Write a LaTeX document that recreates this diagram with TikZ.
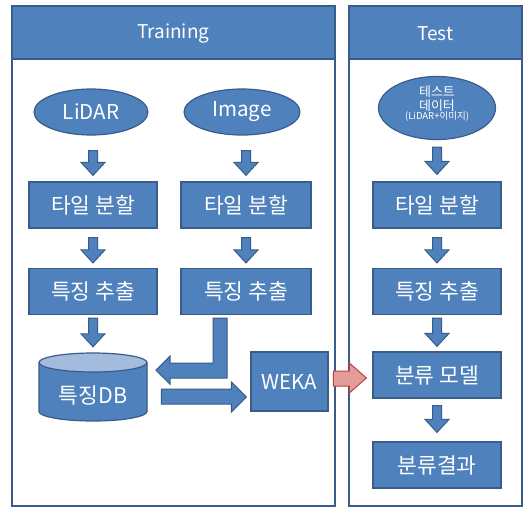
\documentclass[tikz,border=0pt]{standalone}
\usepackage{fontspec}
\setmainfont{Noto Sans CJK KR}
\usetikzlibrary{calc,shapes.geometric}
\definecolor{boxblue}{HTML}{4F81BD}
\definecolor{edgeblue}{HTML}{385D8A}
\definecolor{topblue}{HTML}{A3BCDD}
\definecolor{redfill}{HTML}{E39C9A}
\definecolor{rededge}{HTML}{B8433F}
\tikzset{
  panel/.style={draw=edgeblue, line width=1.5pt, fill=white, inner sep=0pt, anchor=north west},
  header/.style={draw=edgeblue, line width=1.5pt, fill=boxblue, text=white, inner sep=0pt, anchor=north west, font=\fontsize{19}{21}\selectfont},
  box/.style={draw=edgeblue, line width=1.2pt, fill=boxblue, text=white, minimum height=46pt, minimum width=128pt, inner sep=0pt, font=\fontsize{21.5}{23}\selectfont},
  ell/.style={ellipse, draw=edgeblue, line width=1.2pt, fill=boxblue, text=white, inner sep=0pt, minimum height=46pt, font=\fontsize{20.5}{22}\selectfont},
  small/.style={text=white, inner sep=0pt},
  barrow/.style={draw=edgeblue, line width=1pt, fill=boxblue, line join=miter},
  rarrow/.style={draw=rededge, line width=1pt, fill=redfill, line join=miter},
  dbtext/.style={text=white, inner sep=0pt, font=\fontsize{21.5}{23}\selectfont}
}
\newcommand{\blockdown}[4]{%
  \path[barrow] let \p1=(#1), \p2=(#3), \n1={\y1-#2pt}, \n2={\y2+#4pt} in
    (\x2-4.5pt,\n1) -- (\x2+4.5pt,\n1) -- (\x2+4.5pt,\n2+13pt) -- (\x2+12pt,\n2+13pt)
    -- (\x2,\n2) -- (\x2-12pt,\n2+13pt) -- (\x2-4.5pt,\n2+13pt) -- cycle;}
\begin{document}
\begin{tikzpicture}[x=1pt,y=-1pt]
\useasboundingbox (0,0) rectangle (524,507);
\fill[white] (0,0) rectangle (524,507);
% panels
\node[panel, minimum width=323pt, minimum height=500pt] (trainpanel) at (11,5) {};
\node[header, minimum width=323pt, minimum height=53pt] (trainhead) at (11,5) {};
\node[small, font=\fontsize{19}{21}\selectfont] (trainlabel) at ($(trainhead.center)+(0,1.5)$) {Training};
\node[panel, minimum width=173pt, minimum height=500pt] (testpanel) at (348,5) {};
\node[header, minimum width=173pt, minimum height=53pt] (testhead) at (348,5) {};
\node[small, font=\fontsize{19}{21}\selectfont] (testlabel) at ($(testhead.center)+(0,1.5)$) {Test};
% sources
\node[ell, minimum width=114pt] (lidar) at (91,112) {LiDAR};
\node[ell, minimum width=116pt] (image) at (242,112) {Image};
\node[ell, minimum width=117pt, minimum height=63pt] (testdata) at (437,108) {};
\node[small, font=\fontsize{13}{14}\selectfont] (td1) at (437,92) {테스트};
\node[small, font=\fontsize{13}{14}\selectfont] (td2) at (437,105.5) {데이터};
\node[small, font=\fontsize{9.5}{10}\selectfont] (td3) at (437,116.5) {(LiDAR+이미지)};
% boxes
\node[box] (t1) at (93,205) {타일 분할};
\node[box, minimum width=130pt] (t2) at (246,205) {타일 분할};
\node[box] (t3) at (437,205) {타일 분할};
\node[box] (f1) at (93,291.5) {특징 추출};
\node[box, minimum width=130pt] (f2) at (246,291.5) {특징 추출};
\node[box] (f3) at (437,291.5) {특징 추출};
\node[box] (model) at (437,375) {분류 모델};
\node[box] (result) at (437,465) {분류결과};
\node[box, minimum width=77pt, minimum height=59pt, font=\fontsize{20.5}{22}\selectfont] (weka) at (289.5,381.5) {WEKA};
% database cylinder
\node[minimum width=108pt, minimum height=68pt, inner sep=0pt] (db) at (93,387) {};
\fill[boxblue] (39,362.5) -- (39,411.5) arc[start angle=180, end angle=360, x radius=54pt, y radius=9.5pt] -- (147,362.5) -- cycle;
\draw[edgeblue, line width=1.2pt] (39,362.5) -- (39,411.5) arc[start angle=180, end angle=360, x radius=54pt, y radius=9.5pt] -- (147,362.5);
\draw[edgeblue, line width=1.2pt, fill=topblue] (93,362.5) ellipse [x radius=54pt, y radius=9.5pt];
\node[dbtext] (dblabel) at ($(db.center)+(0,8)$) {특징DB};
% down arrows
\blockdown{lidar.south}{15}{t1.north}{6}
\blockdown{image.south}{15}{t2.north}{6}
\blockdown{testdata.south}{7}{t3.north}{7}
\blockdown{t1.south}{9}{f1.north}{5}
\blockdown{t2.south}{9}{f2.north}{5}
\blockdown{t3.south}{9}{f3.north}{5}
\blockdown{f1.south}{3}{db.north}{6}
\blockdown{f3.south}{3}{model.north}{5}
\blockdown{model.south}{7}{result.north}{9}
% bent arrow from image features to DB
\begin{scope}[shift={(f2.south)}]
\path[barrow] (-33,3) -- (-19,3) -- (-19,63) -- (-76,63) -- (-76,69) -- (-90,55)
  -- (-76,41) -- (-76,48) -- (-33,48) -- cycle;
\end{scope}
% DB to WEKA
\begin{scope}[shift={(weka.west)}]
\path[barrow] (-89,7.5) -- (-19,7.5) -- (-19,0.5) -- (-4,15.5) -- (-19,30.5) -- (-19,22.5) -- (-89,22.5) -- cycle;
\end{scope}
% WEKA to model (red)
\begin{scope}[shift={(model.west)}]
\path[rarrow] (-39,-4) -- (-23,-4) -- (-23,-12) -- (-6,3) -- (-23,18) -- (-23,11) -- (-39,11) -- cycle;
\end{scope}
\end{tikzpicture}
\end{document}
